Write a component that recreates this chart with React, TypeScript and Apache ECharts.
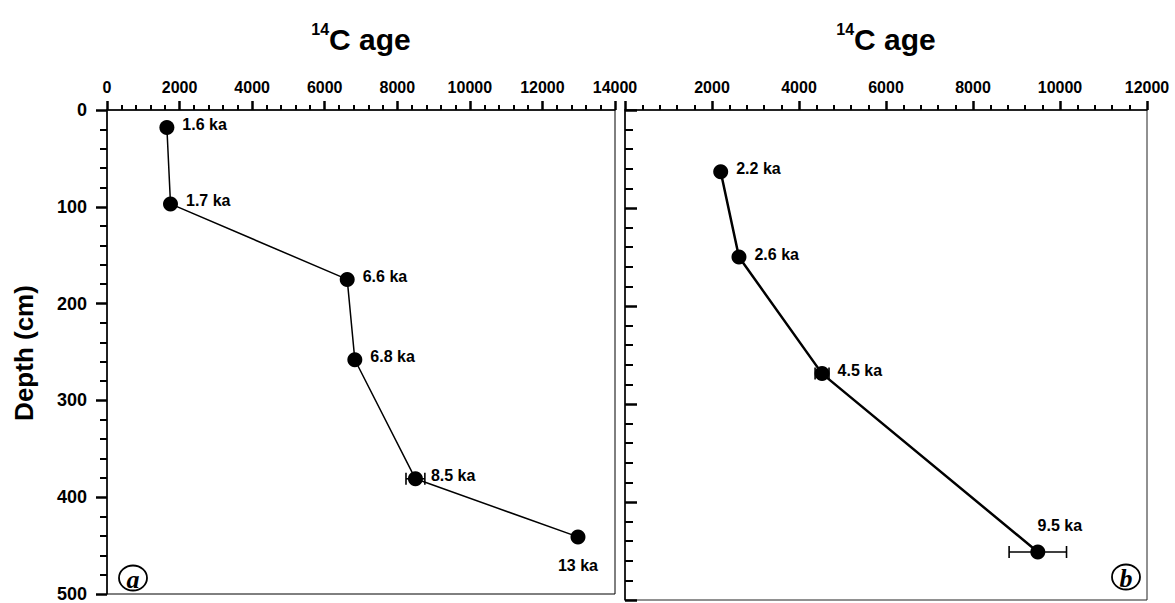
import React, { useEffect, useRef } from 'react';
import * as echarts from 'echarts';

// Panel (a)
const leftAges = [1650, 1750, 6620, 6830, 8500, 12980];
const leftDepths = [18, 97, 175, 258, 381, 441];
const leftErrors = [0, 0, 0, 0, 260, 0];
const leftLabels = ['1.6 ka', '1.7 ka', '6.6 ka', '6.8 ka', '8.5 ka', '13 ka'];

// Panel (b)
const rightAges = [2200, 2620, 4530, 9490];
const rightDepths = [63, 150, 269, 451];
const rightErrors = [0, 0, 160, 660];
const rightLabels = ['2.2 ka', '2.6 ka', '4.5 ka', '9.5 ka'];

// Axes
const leftAgeMax = 14000;
const rightAgeMax = 12000;
const ageStep = 2000;
const depthMax = 500;
const depthStep = 100;
const axisTitle = '14C age';
const depthTitle = 'Depth (cm)';
const panelLetters = ['a', 'b'];

const FONT = '"Liberation Sans", Arial, sans-serif';

// label placement styles (not data)
const leftLabelPlace = ['right', 'right', 'right', 'right', 'right', 'bottom'];
const rightLabelPlace = ['right', 'right', 'right', 'top'];

export default function App() {
  const ref = useRef<HTMLDivElement>(null);

  useEffect(() => {
    const chart = echarts.init(ref.current!, null, { renderer: 'svg' });

    const xAxisOf = (gridIndex: number, max: number, hideZero: boolean) => ({
      gridIndex,
      type: 'value',
      position: 'top',
      min: 0,
      max,
      interval: ageStep,
      axisLine: { show: true, onZero: false, lineStyle: { color: '#000', width: 1.5 } },
      axisTick: { show: true, inside: false, length: 9, lineStyle: { color: '#000', width: 2.5 } },
      minorTick: { show: true, splitNumber: 5, length: 5, lineStyle: { color: '#000', width: 2 } },
      splitLine: { show: false },
      axisLabel: {
        color: '#000',
        fontFamily: FONT,
        fontWeight: 'bold',
        fontSize: 16,
        margin: 15,
        showMaxLabel: true,
        formatter: (v: number) => (hideZero && v === 0 ? '' : String(v)),
      },
    });

    const yAxisOf = (gridIndex: number, inside: boolean, showLabels: boolean) => ({
      gridIndex,
      type: 'value',
      inverse: true,
      min: 0,
      max: depthMax,
      interval: depthStep,
      axisLine: { show: true, onZero: false, lineStyle: { color: '#000', width: 1.5 } },
      axisTick: { show: true, inside, length: inside ? 12 : 11, lineStyle: { color: '#000', width: 2.5 } },
      minorTick: { show: true, splitNumber: 5, length: inside ? 8 : 7, lineStyle: { color: '#000', width: 2 } },
      splitLine: { show: false },
      axisLabel: {
        show: showLabels,
        color: '#000',
        fontFamily: FONT,
        fontWeight: 'bold',
        fontSize: 18,
        margin: 20,
      },
    });

    const labelFor = (place: string) => {
      if (place === 'bottom') return { position: 'bottom', distance: 13 };
      if (place === 'top') return { position: 'top', distance: 11, offset: [22, 0] };
      return { position: 'right', distance: 8, offset: [0, -3] };
    };

    const lineSeries = (
      ages: number[],
      depths: number[],
      labels: string[],
      places: string[],
      idx: number,
      width: number
    ) => ({
      type: 'line',
      xAxisIndex: idx,
      yAxisIndex: idx,
      z: 3,
      symbol: 'circle',
      symbolSize: 15,
      itemStyle: { color: '#000' },
      lineStyle: { color: '#000', width },
      data: ages.map((a, i) => ({
        value: [a, depths[i]],
        label: {
          show: true,
          ...labelFor(places[i]),
          formatter: labels[i],
          color: '#000',
          fontFamily: FONT,
          fontWeight: 'bold',
          fontSize: 16,
        },
      })),
    });

    const errorSeries = (ages: number[], depths: number[], errs: number[], idx: number) => ({
      type: 'custom',
      xAxisIndex: idx,
      yAxisIndex: idx,
      z: 2,
      data: ages
        .map((a, i) => [a, depths[i], errs[i]])
        .filter((d) => d[2] > 0),
      renderItem: (_params: any, api: any) => {
        const x = api.value(0);
        const y = api.value(1);
        const e = api.value(2);
        const p1 = api.coord([x - e, y]);
        const p2 = api.coord([x + e, y]);
        const h = 6;
        const st = { stroke: '#000', lineWidth: 1.6 };
        return {
          type: 'group',
          children: [
            { type: 'line', shape: { x1: p1[0], y1: p1[1], x2: p2[0], y2: p2[1] }, style: st },
            { type: 'line', shape: { x1: p1[0], y1: p1[1] - h, x2: p1[0], y2: p1[1] + h }, style: st },
            { type: 'line', shape: { x1: p2[0], y1: p2[1] - h, x2: p2[0], y2: p2[1] + h }, style: st },
          ],
        };
      },
    });

    const titleText = (cx: number) => ({
      type: 'text',
      x: cx,
      y: 39,
      style: {
        text: '{sup|' + axisTitle.slice(0, 2) + '}{main|' + axisTitle.slice(2) + '}',
        align: 'center',
        verticalAlign: 'middle',
        fill: '#000',
        rich: {
          sup: { fontFamily: FONT, fontWeight: 'bold', fontSize: 16, verticalAlign: 'top', lineHeight: 36, padding: [0, 0, 14, 0] },
          main: { fontFamily: FONT, fontWeight: 'bold', fontSize: 30, lineHeight: 36 },
        },
      },
    });

    const circled = (cx: number, cy: number, letter: string) => [
      {
        type: 'ellipse',
        shape: { cx, cy, rx: 14, ry: 12.5 },
        style: { fill: 'none', stroke: '#000', lineWidth: 1.8 },
      },
      {
        type: 'text',
        x: cx,
        y: cy + 1,
        style: {
          text: letter,
          align: 'center',
          verticalAlign: 'middle',
          fill: '#000',
          font: 'italic bold 26px "Liberation Serif", "DejaVu Serif", serif',
        },
      },
    ];

    chart.setOption({
      animation: false,
      grid: [
        { left: 107, top: 110, width: 508, height: 490, show: true, borderColor: '#000', borderWidth: 1, containLabel: false },
        { left: 625, top: 110, width: 522, height: 490, show: true, borderColor: '#222', borderWidth: 1, containLabel: false },
      ],
      xAxis: [xAxisOf(0, leftAgeMax, false), xAxisOf(1, rightAgeMax, true)],
      yAxis: [yAxisOf(0, false, true), yAxisOf(1, true, false)],
      series: [
        errorSeries(leftAges, leftDepths, leftErrors, 0),
        lineSeries(leftAges, leftDepths, leftLabels, leftLabelPlace, 0, 1.5),
        errorSeries(rightAges, rightDepths, rightErrors, 1),
        lineSeries(rightAges, rightDepths, rightLabels, rightLabelPlace, 1, 2.5),
      ],
      graphic: [
        titleText(361),
        titleText(886),
        {
          type: 'text',
          x: 24,
          y: 353,
          rotation: Math.PI / 2,
          style: {
            text: depthTitle,
            align: 'center',
            verticalAlign: 'middle',
            fill: '#000',
            font: 'bold 26px "Liberation Sans", Arial, sans-serif',
          },
        },
        ...circled(133, 578, panelLetters[0]),
        ...circled(1126, 577, panelLetters[1]),
      ],
    });

    return () => chart.dispose();
  }, []);

  return (
    <div
      ref={ref}
      style={{ position: 'fixed', left: 0, top: 0, width: 1175, height: 603, background: '#fff' }}
    />
  );
}
